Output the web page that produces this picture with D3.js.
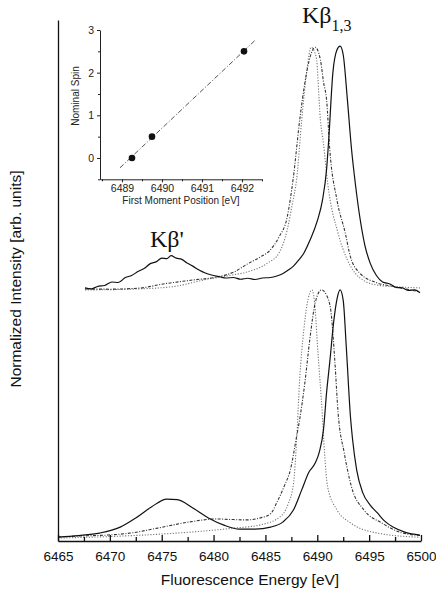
<!DOCTYPE html>
<html lang="en">
<head>
  <meta charset="UTF-8">
  <title>Kbeta emission spectra</title>
  <script src="https://d3js.org/d3.v7.min.js"></script>
  <style>
    body {
      margin: 0;
      background: #fff;
    }
    svg {
      display: block;
      font-family: "Liberation Sans", Arial, sans-serif;
    }
  </style>
</head>
<body>

<svg id="chart" width="436" height="597"></svg>

<script>
// ---- data (energy in eV, intensity normalised) ----
// theory, lower set
const theoHS = [[6465,0.016],[6467,0.022],[6469,0.032],[6471,0.056],[6472.5,0.093],[6474,0.137],[6475.5,0.169],[6476.5,0.167],[6478,0.133],[6479.5,0.093],[6481,0.064],[6482.5,0.048],[6484,0.048],[6485.5,0.056],[6486.7,0.077],[6487.7,0.125],[6488.5,0.206],[6489.2,0.278],[6489.8,0.314],[6490.2,0.359],[6490.6,0.45],[6490.9,0.60],[6491.2,0.72],[6491.6,0.89],[6491.9,0.975],[6492.2,1.012],[6492.5,0.97],[6492.8,0.78],[6493.2,0.50],[6493.4,0.41],[6493.8,0.286],[6494.4,0.193],[6495.1,0.145],[6495.8,0.113],[6496.5,0.08],[6497.3,0.056],[6498.5,0.035],[6499.9,0.024]];
const theoIS = [[6465,0.016],[6467,0.020],[6469.8,0.024],[6472,0.032],[6474.6,0.052],[6477.7,0.077],[6480.3,0.089],[6481.5,0.087],[6483.2,0.085],[6484.5,0.093],[6485.5,0.110],[6486.1,0.155],[6486.8,0.22],[6487.4,0.286],[6488.0,0.42],[6488.3,0.49],[6488.8,0.637],[6489.3,0.82],[6489.8,0.96],[6490.4,1.012],[6490.9,0.99],[6491.3,0.93],[6491.7,0.72],[6492.0,0.52],[6492.6,0.355],[6493.3,0.218],[6494.5,0.125],[6496.2,0.073],[6498,0.035],[6499.9,0.022]];
const theoLS = [[6465,0.012],[6470,0.018],[6475,0.028],[6479,0.04],[6482,0.052],[6484.5,0.065],[6486.4,0.097],[6487.2,0.15],[6487.7,0.23],[6488.0,0.40],[6488.3,0.65],[6488.7,0.85],[6489.0,0.95],[6489.5,1.012],[6489.8,0.93],[6490.0,0.80],[6490.5,0.50],[6490.7,0.355],[6491.0,0.218],[6491.9,0.125],[6493.2,0.073],[6495.8,0.032],[6499.9,0.015]];

// experiment, upper set (drawn with an offset)
const expOffset = 1.0;
const expHS = [[6467.6,0.020],[6468.2,0.016],[6468.8,0.026],[6469.5,0.030],[6470.2,0.044],[6470.8,0.042],[6471.5,0.062],[6472.1,0.070],[6472.7,0.086],[6473.3,0.098],[6473.9,0.118],[6474.5,0.126],[6475.0,0.140],[6475.5,0.138],[6475.9,0.150],[6476.4,0.140],[6476.9,0.136],[6477.4,0.122],[6478.0,0.108],[6478.6,0.092],[6479.2,0.080],[6479.8,0.072],[6480.5,0.066],[6481.2,0.060],[6481.9,0.062],[6482.6,0.055],[6483.3,0.059],[6484.0,0.054],[6484.7,0.060],[6485.5,0.062],[6486.1,0.068],[6486.7,0.078],[6487.2,0.092],[6487.7,0.108],[6488.2,0.132],[6488.7,0.160],[6489.3,0.213],[6490.0,0.290],[6490.5,0.374],[6490.9,0.50],[6491.1,0.616],[6491.5,0.886],[6491.9,0.98],[6492.2,0.995],[6492.5,0.96],[6492.9,0.78],[6493.3,0.58],[6493.7,0.43],[6494.1,0.306],[6494.6,0.19],[6495.1,0.12],[6495.7,0.07],[6496.3,0.044],[6497.0,0.036],[6497.6,0.022],[6498.2,0.020],[6498.8,0.010],[6499.4,0.012],[6499.9,0.0]];
const expIS = [[6467.6,0.016],[6470,0.015],[6473,0.020],[6475,0.035],[6478,0.052],[6480.3,0.064],[6482,0.085],[6483.2,0.115],[6484.5,0.145],[6485.4,0.170],[6486.3,0.225],[6487.1,0.306],[6487.66,0.455],[6488.34,0.709],[6488.8,0.846],[6489.3,0.95],[6489.8,0.99],[6490.3,0.94],[6490.6,0.85],[6490.9,0.777],[6491.2,0.58],[6491.9,0.374],[6492.7,0.241],[6493.2,0.145],[6494.1,0.080],[6495.8,0.040],[6497.5,0.025],[6499.9,0.004]];
const expLS = [[6467.6,0.012],[6472,0.015],[6476,0.025],[6479.4,0.055],[6481.5,0.070],[6483.2,0.084],[6485.2,0.120],[6486.3,0.16],[6487.1,0.254],[6487.6,0.36],[6488.0,0.455],[6488.5,0.697],[6489.0,0.898],[6489.4,0.99],[6489.9,0.95],[6490.3,0.697],[6490.6,0.60],[6491.0,0.443],[6492.0,0.241],[6492.9,0.133],[6494.4,0.052],[6496,0.030],[6498,0.024],[6499.9,0.020]];

// inset: first moment vs nominal spin
const insetMoment = [6489.25, 6489.75, 6492.05];
const insetSpin = [0, 0.5, 2.5];
const fitLine = [[6488.95,-0.23],[6492.33,2.76]];

const xTicks = [6465, 6470, 6475, 6480, 6485, 6490, 6495, 6500];
const xMinor = [6467.5, 6472.5, 6477.5, 6482.5, 6487.5, 6492.5, 6497.5];
const insetXTicks = [6489, 6490, 6491, 6492];
const insetYTicks = [0, 1, 2, 3];

// ---- main chart ----
const svg = d3.select("#chart");

const x = d3.scaleLinear().domain([6465, 6500]).range([58, 421]);
const y = d3.scaleLinear().domain([0, 2.1]).range([541, 20]);

const line = d3.line()
  .x(d => x(d[0]))
  .y(d => y(d[1]))
  .curve(d3.curveMonotoneX);

const shift = arr => arr.map(d => [d[0], d[1] + expOffset]);

const styles = {
  solid:  {stroke: "#111", dash: null, w: 1.2},
  dashed: {stroke: "#333", dash: "3,1.5,1,1.5", w: 1.1},
  dotted: {stroke: "#777", dash: "1.2,1.6", w: 1.1}
};

const series = [
  {data: theoLS, s: "dotted"},
  {data: theoIS, s: "dashed"},
  {data: theoHS, s: "solid"},
  {data: shift(expLS), s: "dotted"},
  {data: shift(expIS), s: "dashed"},
  {data: shift(expHS), s: "solid"}
];

series.forEach(d => {
  const st = styles[d.s];
  svg.append("path")
    .datum(d.data)
    .attr("fill", "none")
    .attr("stroke", st.stroke)
    .attr("stroke-width", st.w)
    .attr("stroke-dasharray", st.dash)
    .attr("d", line);
});

// axes
const xAxis = svg.append("g")
  .attr("transform", "translate(0,541)")
  .call(d3.axisBottom(x).tickValues(xTicks).tickSize(-6).tickSizeOuter(0)
    .tickPadding(10).tickFormat(d3.format("d")));
xAxis.selectAll("text").attr("font-size", 13.5).attr("fill", "#111")
  .attr("font-family", "Liberation Sans, Arial, sans-serif");

svg.append("g")
  .attr("transform", "translate(0,541)")
  .call(d3.axisBottom(x).tickValues(xMinor).tickSize(-4).tickFormat(""))
  .select(".domain").remove();

svg.append("g")
  .attr("transform", "translate(58,0)")
  .call(d3.axisLeft(y).tickValues([]).tickSizeOuter(0));

svg.selectAll(".domain, .tick line").attr("stroke", "#111").attr("stroke-width", 1.3);

svg.append("text")
  .attr("x", 250).attr("y", 585)
  .attr("text-anchor", "middle")
  .attr("font-size", 15.5)
  .attr("fill", "#111")
  .text("Fluorescence Energy [eV]");

svg.append("text")
  .attr("transform", "translate(21,279) rotate(-90)")
  .attr("text-anchor", "middle")
  .attr("font-size", 15.5)
  .attr("fill", "#111")
  .text("Normalized Intensity [arb. units]");

// peak labels
const kb13 = svg.append("text")
  .attr("x", 302).attr("y", 23)
  .attr("font-family", "Liberation Serif, Times New Roman, serif")
  .attr("font-size", 24)
  .attr("fill", "#111");
kb13.append("tspan").text("Kβ");
kb13.append("tspan").attr("font-size", 16).attr("dy", 8).text("1,3");

svg.append("text")
  .attr("x", 150).attr("y", 247)
  .attr("font-family", "Liberation Serif, Times New Roman, serif")
  .attr("font-size", 24)
  .attr("fill", "#111")
  .text("Kβ'");

// ---- inset ----
const ix = d3.scaleLinear().domain([6488.45, 6492.5]).range([100, 262]);
const iy = d3.scaleLinear().domain([-0.5, 3]).range([179.3, 30]);
const inset = svg.append("g");

inset.append("g")
  .attr("transform", "translate(0,179.3)")
  .call(d3.axisBottom(ix).tickValues(insetXTicks).tickSize(3).tickSizeOuter(0).tickPadding(2)
    .tickFormat(d3.format("d")));
inset.append("g")
  .attr("transform", "translate(0,179.3)")
  .call(d3.axisBottom(ix).tickValues([6488.5, 6489.5, 6490.5, 6491.5, 6492.5]).tickSize(2).tickFormat(""))
  .select(".domain").remove();

inset.append("g")
  .attr("transform", "translate(100,0)")
  .call(d3.axisLeft(iy).tickValues(insetYTicks).tickSize(3).tickSizeOuter(0).tickPadding(3)
    .tickFormat(d3.format("d")));
inset.append("g")
  .attr("transform", "translate(100,0)")
  .call(d3.axisLeft(iy).tickValues([-0.5, 0.5, 1.5, 2.5]).tickSize(2).tickFormat(""))
  .select(".domain").remove();

inset.selectAll(".domain, .tick line").attr("stroke", "#222").attr("stroke-width", 1);
inset.selectAll("text").attr("font-size", 10.5).attr("fill", "#222")
  .attr("font-family", "Liberation Sans, Arial, sans-serif");

inset.append("path")
  .datum(fitLine)
  .attr("fill", "none")
  .attr("stroke", "#555")
  .attr("stroke-width", 1)
  .attr("stroke-dasharray", "5,2,1,2")
  .attr("d", d3.line().x(d => ix(d[0])).y(d => iy(d[1])));

inset.selectAll("circle")
  .data(insetMoment)
  .join("circle")
  .attr("cx", d => ix(d))
  .attr("cy", (d, i) => iy(insetSpin[i]))
  .attr("r", 3.3)
  .attr("fill", "#111");

inset.append("text")
  .attr("x", 181).attr("y", 204)
  .attr("text-anchor", "middle")
  .attr("font-size", 10)
  .attr("fill", "#222")
  .text("First Moment Position [eV]");

inset.append("text")
  .attr("transform", "translate(79,96) rotate(-90)")
  .attr("text-anchor", "middle")
  .attr("font-size", 10)
  .attr("fill", "#222")
  .text("Nominal Spin");
</script>

</body>
</html>
